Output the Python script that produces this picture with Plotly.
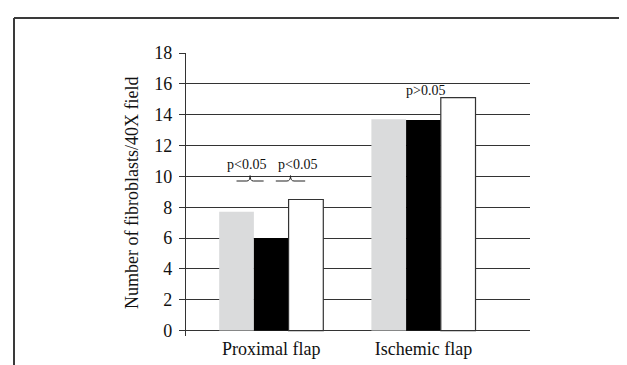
import plotly.graph_objects as go

categories = ["Proximal flap", "Ischemic flap"]
series_gray = [7.7, 13.7]
series_black = [6.0, 13.65]
series_white = [8.5, 15.1]
y_ticks = [0, 2, 4, 6, 8, 10, 12, 14, 16, 18]
p_labels = ["p<0.05", "p<0.05", "p>0.05"]

x_pos = list(range(len(categories)))
FONT = "Liberation Serif, Times New Roman, serif"

fig = go.Figure()
fig.add_bar(x=x_pos, y=series_gray, marker=dict(color="#dadbdc", line=dict(width=0)), name="A")
fig.add_bar(x=x_pos, y=series_black, marker=dict(color="#000000", line=dict(width=0)), name="B")
fig.add_bar(x=x_pos, y=series_white, marker=dict(color="#ffffff", line=dict(color="#333333", width=1.2)), name="C")

bargap = 0.316
bw = (1 - bargap) / 3  # width of one bar in data units

def brace(x0, x1, y, h):
    xc = (x0 + x1) / 2
    d = (x1 - x0) * 0.12
    return (f"M {x0},{y} L {xc-d},{y} Q {xc},{y} {xc},{y+h} "
            f"Q {xc},{y} {xc+d},{y} L {x1},{y}")

PH = 283  # plot area height in px
shapes = [
    dict(type="path", xref="x", yref="y", path=brace(x_pos[0] - bw, x_pos[0] - 0.05, 9.7, 0.35),
         line=dict(color="#222", width=1)),
    dict(type="path", xref="x", yref="y", path=brace(x_pos[0] + 0.03, x_pos[0] + bw - 0.005, 9.7, 0.35),
         line=dict(color="#222", width=1)),
    # frame lines
    dict(type="line", xref="paper", yref="paper", x0=(6 - 178) / 344, x1=(627 - 178) / 344 + 0.01,
         y0=(328 - 10) / PH, y1=(328 - 10) / PH, line=dict(color="#3a3a3a", width=2)),
    dict(type="line", xref="paper", yref="paper", x0=(6 - 178) / 344, x1=(6 - 178) / 344,
         y0=(328 - 10) / PH, y1=-37 / PH - 0.01, line=dict(color="#3a3a3a", width=2)),
]

annotations = [
    dict(x=x_pos[0] - 0.165, y=10.75, xref="x", yref="y", text=p_labels[0], showarrow=False,
         font=dict(family=FONT, size=14, color="#111")),
    dict(x=x_pos[0] + 0.17, y=10.75, xref="x", yref="y", text=p_labels[1], showarrow=False,
         font=dict(family=FONT, size=14, color="#111")),
    dict(x=x_pos[1] + 0.012, y=15.6, xref="x", yref="y", text=p_labels[2], showarrow=False,
         font=dict(family=FONT, size=14, color="#111")),
    dict(x=(124 - 178) / 344, y=(328 - 185) / PH, xref="paper", yref="paper",
         text="Number of fibroblasts/40X field", textangle=-90, showarrow=False,
         font=dict(family=FONT, size=18, color="#111"), xanchor="center", yanchor="middle"),
]

fig.update_layout(
    width=627, height=365,
    margin=dict(l=178, r=105, t=45, b=37, autoexpand=False),
    paper_bgcolor="white", plot_bgcolor="white",
    barmode="group", bargap=bargap, bargroupgap=0,
    showlegend=False,
    shapes=shapes, annotations=annotations,
    font=dict(family=FONT, size=18, color="#111"),
    xaxis=dict(type="linear", range=[-0.56, 1.70], tickvals=x_pos, ticktext=categories,
               showgrid=False, zeroline=False, showline=False, ticks="",
               tickfont=dict(family=FONT, size=18, color="#111")),
    yaxis=dict(range=[-0.35, 18], tickvals=y_ticks, showgrid=True, gridcolor="#333333", gridwidth=1,
               zeroline=False, showline=True, linecolor="#333333", linewidth=1.2,
               ticks="outside", ticklen=6, tickcolor="#333333", tickwidth=1,
               ticklabelstandoff=3,
               tickfont=dict(family=FONT, size=18, color="#111")),
)

fig.write_html("out.html")
